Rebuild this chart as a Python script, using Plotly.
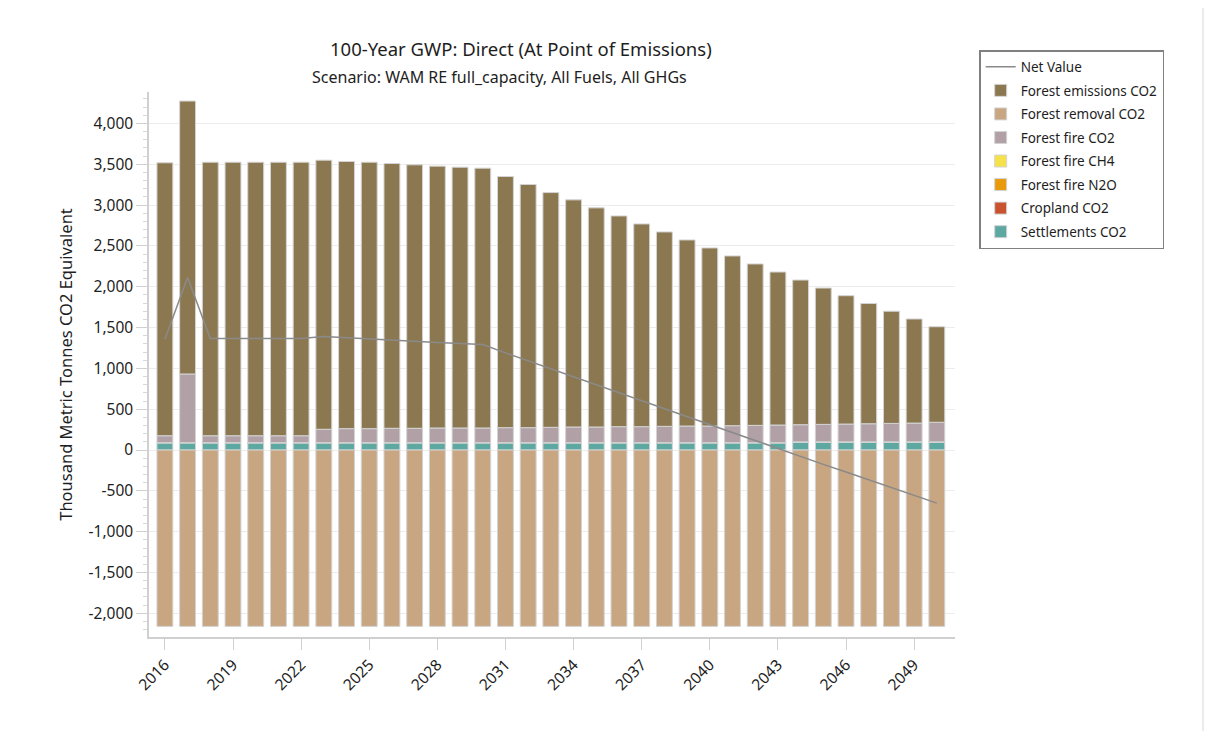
import plotly.graph_objects as go

years = list(range(2016, 2051))

forest_emissions_co2 = [3343, 3343, 3350, 3350, 3350, 3350, 3350, 3296, 3272, 3263,
                        3243, 3227, 3207, 3194, 3182, 3076, 2978, 2875, 2782, 2684,
                        2581, 2483, 2381, 2279, 2181, 2079, 1977, 1874, 1772, 1670,
                        1572, 1473, 1374, 1275, 1170]
forest_removal_co2 = [-2160] * 35
forest_fire_co2 = [85, 841, 85, 85, 85, 85, 85, 164, 172, 172,
                   176, 176, 180, 180, 180, 184, 184, 188, 192, 192,
                   196, 196, 200, 204, 204, 208, 212, 216, 210, 214,
                   218, 222, 226, 230, 240]
forest_fire_ch4 = [0] * 35
forest_fire_n2o = [0] * 35
cropland_co2 = [0] * 35
settlements_co2 = [90] * 28 + [100] * 7

net_value = [a + b + c + d + e + f + g for a, b, c, d, e, f, g in zip(
    forest_emissions_co2, forest_removal_co2, forest_fire_co2, forest_fire_ch4,
    forest_fire_n2o, cropland_co2, settlements_co2)]

tick_years = list(range(2016, 2051, 3))
y_ticks = list(range(-2000, 4001, 500))

FONT = "Segoe UI, Noto Sans, Open Sans, sans-serif"
TXT = "#1e1e1e"
outline = dict(color="#d4d4d4", width=1)

fig = go.Figure()

# stacking order (bottom -> top): settlements, cropland, N2O, CH4, fire CO2, emissions
bar_defs = [
    ("Settlements CO2", settlements_co2, "#5ea8a2", 8),
    ("Cropland CO2", cropland_co2, "#c9532f", 7),
    ("Forest fire N2O", forest_fire_n2o, "#e99a0c", 6),
    ("Forest fire CH4", forest_fire_ch4, "#f5e24b", 5),
    ("Forest fire CO2", forest_fire_co2, "#b1a1a6", 4),
    ("Forest emissions CO2", forest_emissions_co2, "#8b7850", 2),
    ("Forest removal CO2", forest_removal_co2, "#c8a682", 3),
]
for name, vals, color, rank in bar_defs:
    fig.add_trace(go.Bar(
        x=years, y=vals, name=name, marker=dict(color=color, line=outline),
        legendrank=rank, legendgroup=name,
    ))

fig.add_trace(go.Scatter(
    x=years, y=net_value, name="Net Value", mode="lines",
    line=dict(color="#8a8a8a", width=1.5), legendrank=1, legendgroup="Net Value",
))

fig.update_layout(
    width=1216, height=731,
    barmode="relative", bargap=0.3,
    paper_bgcolor="white", plot_bgcolor="white",
    font=dict(family=FONT, size=15, color=TXT),
    margin=dict(l=141, r=269, t=84, b=102),
    showlegend=True,
    legend=dict(
        x=1.03, y=1.077, xanchor="left", yanchor="top",
        bordercolor="#808080", borderwidth=1.5, bgcolor="white",
        font=dict(family=FONT, size=13.5, color=TXT),
        traceorder="grouped", tracegroupgap=3,
        itemwidth=30,
    ),
    xaxis=dict(
        range=[2015.3, 2050.8],
        tickmode="array", tickvals=tick_years, ticktext=[str(y) for y in tick_years],
        tickangle=-45, ticks="outside", ticklen=11, tickcolor="#d0d0d0",
        showgrid=False, zeroline=False,
        showline=True, linecolor="#d0d0d0", linewidth=1.5,
        tickfont=dict(size=15.5, color=TXT),
    ),
    yaxis=dict(
        range=[-2290, 4385],
        tickmode="array", tickvals=y_ticks,
        ticktext=[f"{v:,}" for v in y_ticks],
        ticks="outside", ticklen=11, tickcolor="#d0d0d0",
        showgrid=True, gridcolor="#ececec", gridwidth=1,
        zeroline=False,
        showline=True, linecolor="#d0d0d0", linewidth=1.5,
        minor=dict(dtick=100, ticks="outside", ticklen=4, tickcolor="#d8d8d8", showgrid=False),
        tickfont=dict(size=15.5, color=TXT),
        title=dict(text="Thousand Metric Tonnes CO2 Equivalent", font=dict(size=16.5, color=TXT), standoff=12),
    ),
    annotations=[
        dict(text="100-Year GWP: Direct (At Point of Emissions)", xref="paper", yref="paper",
             x=(521 - 149) / 806, y=(637 - 49) / 545, xanchor="center", yanchor="middle",
             showarrow=False, font=dict(family=FONT, size=18.5, color=TXT)),
        dict(text="Scenario: WAM RE full_capacity, All Fuels, All GHGs", xref="paper", yref="paper",
             x=(499 - 149) / 806, y=(637 - 77) / 545, xanchor="center", yanchor="middle",
             showarrow=False, font=dict(family=FONT, size=16, color=TXT)),
    ],
    shapes=[
        dict(type="line", xref="paper", yref="paper", x0=(1203 - 149) / 806, x1=(1203 - 149) / 806,
             y0=(637 - 0) / 545, y1=(637 - 731) / 545, line=dict(color="#d8d8d8", width=1)),
    ],
)

fig.write_html("out.html")
